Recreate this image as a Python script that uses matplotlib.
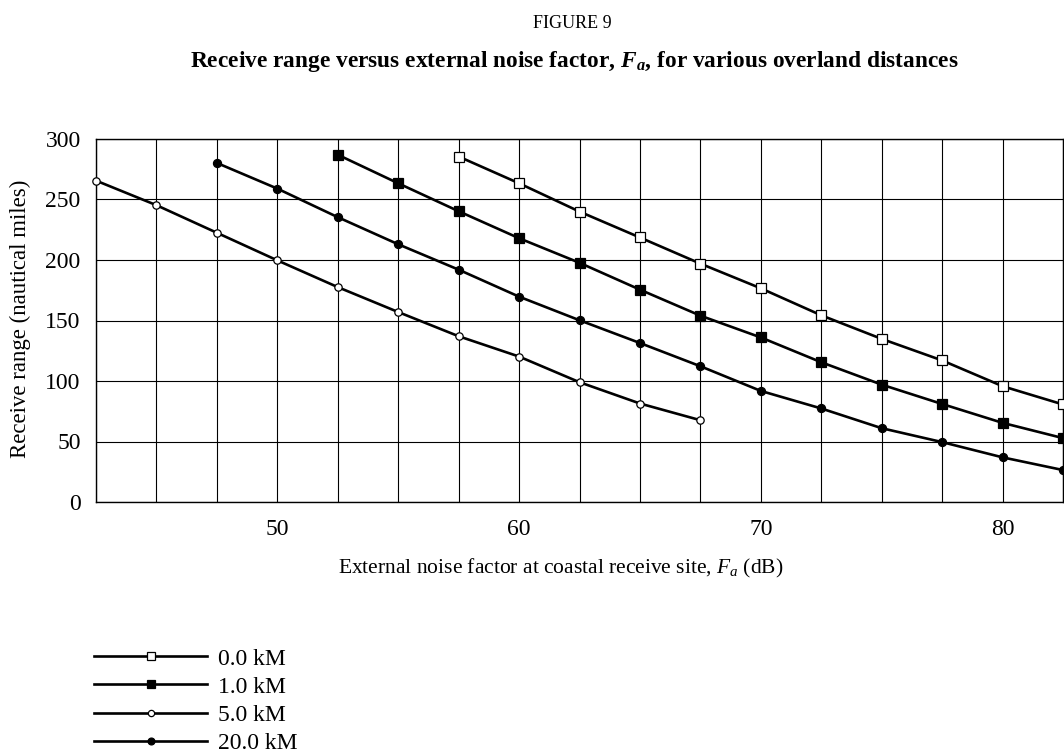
import matplotlib
matplotlib.use("Agg")
import matplotlib.pyplot as plt

plt.rcParams['font.family'] = ['Liberation Serif', 'DejaVu Serif']
plt.rcParams['mathtext.fontset'] = 'custom'
plt.rcParams['mathtext.rm'] = 'Liberation Serif'
plt.rcParams['mathtext.it'] = 'Liberation Serif:italic'
plt.rcParams['mathtext.bf'] = 'Liberation Serif:bold'
plt.rcParams['mathtext.bfit'] = 'Liberation Serif:italic:bold'

# Data
x_0km = [57.5, 60, 62.5, 65, 67.5, 70, 72.5, 75, 77.5, 80, 82.5]
y_0km = [285.5, 263.4, 240, 218.6, 197, 176.6, 154.3, 134.8, 117, 95.7, 80.6]

x_1km = [52.5, 55, 57.5, 60, 62.5, 65, 67.5, 70, 72.5, 75, 77.5, 80, 82.5]
y_1km = [287, 263.4, 240.3, 218, 197.7, 175.5, 154, 136, 115.5, 97, 81, 65.4, 52.8]

x_5km = [42.5, 45, 47.5, 50, 52.5, 55, 57.5, 60, 62.5, 65, 67.5]
y_5km = [265.6, 245.3, 222.5, 199.7, 177.6, 157, 137, 120.2, 99, 81.4, 67.6]

x_20km = [47.5, 50, 52.5, 55, 57.5, 60, 62.5, 65, 67.5, 70, 72.5, 75, 77.5, 80, 82.5]
y_20km = [280.2, 259, 235.4, 213, 192, 169.7, 150.2, 131.4, 112.2, 91.8, 77.3, 61, 49.5, 36.9, 26.4]

labels = ["0.0 kM", "1.0 kM", "5.0 kM", "20.0 kM"]
x_ticks = [50, 60, 70, 80]
y_ticks = [0, 50, 100, 150, 200, 250, 300]

W, H = 1064, 754
fig = plt.figure(figsize=(W/100, H/100), dpi=100)
ax = fig.add_axes([96/W, 1-502/H, (1063-96)/W, (502-139)/H])

lw = 1.9
series = [
    (x_0km, y_0km, dict(marker='s', ms=6.5, mfc='white', mec='black', mew=0.9)),
    (x_1km, y_1km, dict(marker='s', ms=6.8, mfc='black', mec='black', mew=0.9)),
    (x_5km, y_5km, dict(marker='o', ms=5.3, mfc='white', mec='black', mew=0.9)),
    (x_20km, y_20km, dict(marker='o', ms=5.8, mfc='black', mec='black', mew=0.9)),
]
handles = []
for (xs, ys, st), lab in zip(series, labels):
    ln, = ax.plot(xs, ys, color='black', lw=lw, label=lab, clip_on=False, zorder=3, **st)
    handles.append(ln)

ax.set_xlim(42.5, 82.5)
ax.set_ylim(0, 300)
ax.set_xticks(x_ticks)
ax.set_xticks([42.5 + 2.5*i for i in range(17)], minor=True)
ax.set_yticks(y_ticks)
ax.tick_params(axis='both', which='both', length=0, labelsize=17)
ax.tick_params(axis='x', pad=12)
ax.tick_params(axis='y', pad=11)
ax.grid(True, which='both', axis='x', color='black', lw=0.8)
ax.grid(True, which='major', axis='y', color='black', lw=0.8)
for s in ax.spines.values():
    s.set_color('black')
    s.set_linewidth(1.0)

fig.text(561/W, 1-568/H, r"External noise factor at coastal receive site, $F_a$ (dB)",
         ha='center', va='center', fontsize=15.5)
fig.text(20/W, 1-319/H, "Receive range (nautical miles)", rotation=90,
         ha='center', va='center', fontsize=16.5)

fig.text(572/W, 1-28/H, "FIGURE 9", ha='center', va='baseline', fontsize=13)
fig.text(574/W, 1-67/H,
         r"Receive range versus external noise factor, $\mathbfit{F_a}$, for various overland distances",
         ha='center', va='baseline', fontsize=16.8, fontweight='bold')

fig.legend(handles=handles, labels=labels, loc='upper left',
           bbox_to_anchor=(94/W, 1-648/H), frameon=False, fontsize=17,
           handlelength=4.8, handletextpad=0.45, labelspacing=0.28, borderpad=0,
           borderaxespad=0, markerscale=0.85)

fig.savefig("out.png", dpi=100)
